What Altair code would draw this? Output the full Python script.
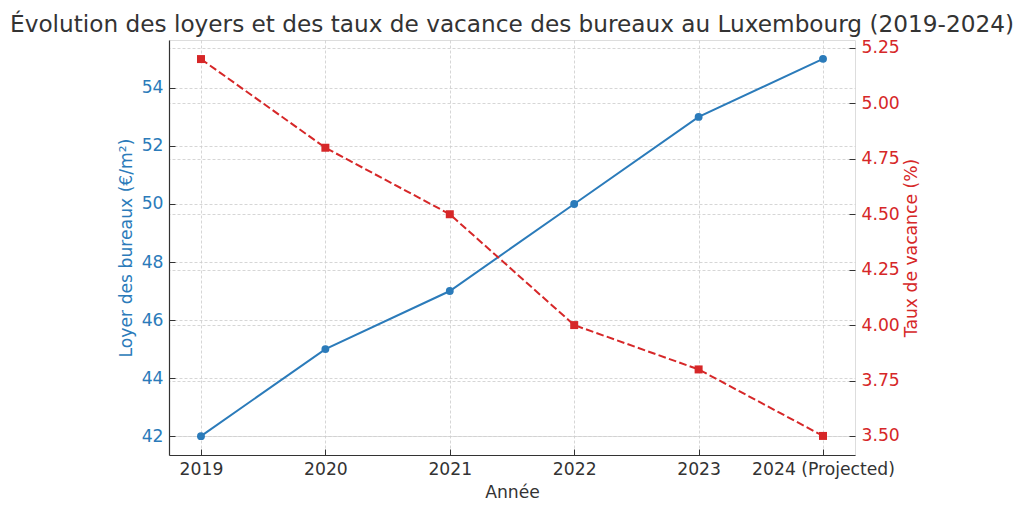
import altair as alt
import pandas as pd

years = ["2019", "2020", "2021", "2022", "2023", "2024 (Projected)"]
loyer = [42, 45, 47, 50, 53, 55]
vacance = [5.2, 4.8, 4.5, 4.0, 3.8, 3.5]

df = pd.DataFrame({"Année": years, "Loyer": loyer, "Vacance": vacance})

BLUE = "#2b7bba"
RED = "#d62728"
TXT = "#333333"
FONT = "DejaVu Sans"
GRID = "#cccccc"
FS = 17.2

x_enc = alt.X(
    "Année:O",
    sort=years,
    scale=alt.Scale(type="point", padding=0.257),
    axis=alt.Axis(
        title="Année",
        labelAngle=0,
        labelFont=FONT,
        labelFontSize=FS,
        labelColor=TXT,
        labelPadding=11,
        titleFont=FONT,
        titleFontSize=FS,
        titleFontWeight="normal",
        titleColor=TXT,
        titlePadding=6,
        domainColor=TXT,
        domainWidth=1.2,
        tickColor=TXT,
        tickSize={"expr": "-6"},
        tickWidth=1,
        grid=True,
        gridColor=GRID,
        gridDash=[3, 2],
        gridWidth=0.8,
    ),
)

blue = alt.Chart(df).mark_line(
    color=BLUE,
    strokeWidth=2,
    point=alt.OverlayMarkDef(filled=True, size=62, color=BLUE, shape="circle"),
).encode(
    x=x_enc,
    y=alt.Y(
        "Loyer:Q",
        scale=alt.Scale(domain=[41.35, 55.65], nice=False, zero=False),
        axis=alt.Axis(
            orient="left",
            title="Loyer des bureaux (€/m²)",
            values=[42, 44, 46, 48, 50, 52, 54],
            labelFont=FONT,
            labelFontSize=FS,
            labelColor=BLUE,
            labelPadding=12,
            titleFont=FONT,
            titleFontSize=FS,
            titleFontWeight="normal",
            titleColor=BLUE,
            titlePadding=6,
            domainColor=TXT,
            domainWidth=1.2,
            tickColor=TXT,
            tickSize={"expr": "-6"},
            grid=True,
            gridColor=GRID,
            gridDash=[3, 2],
            gridWidth=0.8,
        ),
    ),
)

red = alt.Chart(df).mark_line(
    color=RED,
    strokeWidth=2,
    strokeDash=[7.7, 3.3],
    point=alt.OverlayMarkDef(filled=True, size=64, color=RED, shape="square"),
).encode(
    x=x_enc,
    y=alt.Y(
        "Vacance:Q",
        scale=alt.Scale(domain=[3.414, 5.286], nice=False, zero=False),
        axis=alt.Axis(
            orient="right",
            title="Taux de vacance (%)",
            values=[3.5, 3.75, 4.0, 4.25, 4.5, 4.75, 5.0, 5.25],
            format=".2f",
            labelFont=FONT,
            labelFontSize=FS,
            labelColor=RED,
            labelPadding=12,
            titleFont=FONT,
            titleFontSize=FS,
            titleFontWeight="normal",
            titleColor=RED,
            titlePadding=21,
            titleAngle=270,
            domain=False,
            tickColor=TXT,
            tickSize={"expr": "-6"},
            grid=True,
            gridColor=GRID,
            gridDash=[3, 2],
            gridWidth=0.8,
        ),
    ),
)

chart = (
    alt.layer(blue, red)
    .resolve_scale(y="independent")
    .properties(
        width=686,
        height=415,
        autosize=alt.AutoSizeParams(type="none"),
        padding={"left": 161, "top": 32, "right": 161, "bottom": 48},
        title=alt.TitleParams(
            text="Évolution des loyers et des taux de vacance des bureaux au Luxembourg (2019-2024)",
            font=FONT,
            fontSize=23.2,
            fontWeight="normal",
            color=TXT,
            anchor="middle",
            baseline="alphabetic",
            offset=7,
            dy=23,
        ),
    )
    .configure_view(stroke=None)
    .configure(background="white")
)

chart.save("out.html", embed_options={"renderer": "svg", "actions": False})
